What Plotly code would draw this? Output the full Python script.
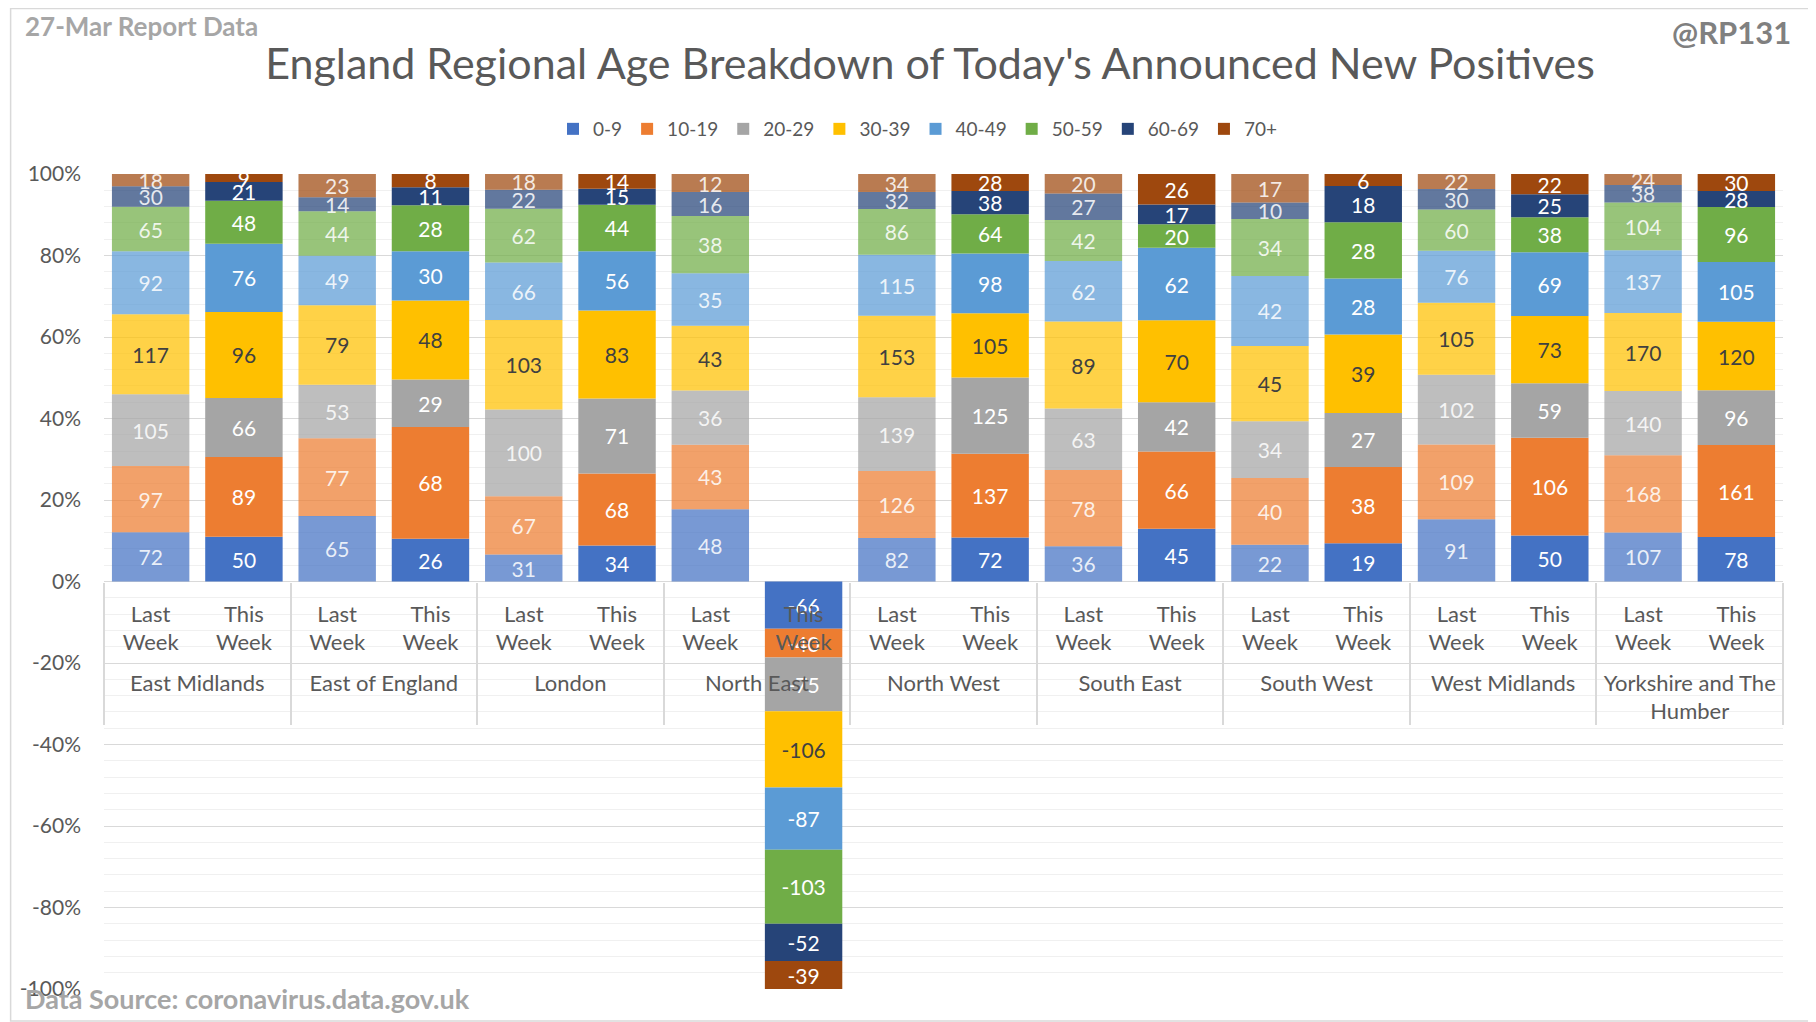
import plotly.graph_objects as go

# ---------------- data ----------------
regions = ["East Midlands", "East of England", "London", "North East", "North West",
           "South East", "South West", "West Midlands", "Yorkshire and The<br>Humber"]
weeks = ["Last<br>Week<br> ", "This<br>Week<br> "]
age_groups = ["0-9", "10-19", "20-29", "30-39", "40-49", "50-59", "60-69", "70+"]

# values per age group, ordered region by region: (Last Week, This Week)
age_0_9 = [72, 50, 65, 26, 31, 34, 48, -66, 82, 72, 36, 45, 22, 19, 91, 50, 107, 78]
age_10_19 = [97, 89, 77, 68, 67, 68, 43, -40, 126, 137, 78, 66, 40, 38, 109, 106, 168, 161]
age_20_29 = [105, 66, 53, 29, 100, 71, 36, -75, 139, 125, 63, 42, 34, 27, 102, 59, 140, 96]
age_30_39 = [117, 96, 79, 48, 103, 83, 43, -106, 153, 105, 89, 70, 45, 39, 105, 73, 170, 120]
age_40_49 = [92, 76, 49, 30, 66, 56, 35, -87, 115, 98, 62, 62, 42, 28, 76, 69, 137, 105]
age_50_59 = [65, 48, 44, 28, 62, 44, 38, -103, 86, 64, 42, 20, 34, 28, 60, 38, 104, 96]
age_60_69 = [30, 21, 14, 11, 22, 15, 16, -52, 32, 38, 27, 17, 10, 18, 30, 25, 38, 28]
age_70_plus = [18, 9, 23, 8, 18, 14, 12, -39, 34, 28, 20, 26, 17, 6, 22, 22, 24, 30]

y_tick_values = [-100, -80, -60, -40, -20, 0, 20, 40, 60, 80, 100]
y_tick_labels = ["-100%", "-80%", "-60%", "-40%", "-20%", "0%", "20%", "40%", "60%", "80%", "100%"]

series = [age_0_9, age_10_19, age_20_29, age_30_39, age_40_49, age_50_59, age_60_69, age_70_plus]
colors = ["68,114,196", "237,125,49", "165,165,165", "255,192,0",
          "91,155,213", "112,173,71", "38,68,120", "158,72,14"]

# ---------------- layout geometry ----------------
W, H = 1808, 1014
ML, MR, MT, MB = 94, 33, 166, 33
PW, PH = W - ML - MR, H - MT - MB


def px(X):
    return (X - ML) / PW


def py(Y):
    return (H - MB - Y) / PH


FONT = "Lato"

fig = go.Figure()
for k, g in enumerate(age_groups):
    last_vals = series[k][0::2]
    txt_last = "#404040" if g == "30-39" else "rgba(255,255,255,0.85)"
    fig.add_trace(go.Bar(
        x=[regions, [weeks[0]] * len(regions)], y=last_vals, name=g,
        legendgroup=g, showlegend=False,
        marker=dict(color="rgba(%s,0.72)" % colors[k], line=dict(width=0)),
        text=last_vals, texttemplate="%{text}", textposition="inside",
        insidetextanchor="middle", textangle=0,
        textfont=dict(family=FONT, size=21, color=txt_last),
    ))
for k, g in enumerate(age_groups):
    this_vals = series[k][1::2]
    txt_this = "#404040" if g == "30-39" else "#ffffff"
    fig.add_trace(go.Bar(
        x=[regions, [weeks[1]] * len(regions)], y=this_vals, name=g,
        legendgroup=g, showlegend=True,
        marker=dict(color="rgb(%s)" % colors[k], line=dict(width=0)),
        text=this_vals, texttemplate="%{text}", textposition="inside",
        insidetextanchor="middle", textangle=0,
        textfont=dict(family=FONT, size=21, color=txt_this),
    ))

fig.update_layout(
    width=W, height=H,
    margin=dict(l=ML, r=MR, t=MT, b=MB),
    paper_bgcolor="white", plot_bgcolor="white",
    barmode="relative", barnorm="percent", bargap=0.17,
    uniformtext=dict(mode="show", minsize=21),
    font=dict(family=FONT, color="#595959"),
    title=dict(text="England Regional Age Breakdown of Today's Announced New Positives",
               font=dict(family=FONT, size=43, color="#595959"),
               xref="container", x=922 / W, xanchor="center",
               yref="container", y=1 - 56 / H, yanchor="middle"),
    legend=dict(orientation="h", traceorder="normal",
                xref="container", x=910 / W, xanchor="center",
                yref="container", y=1 - 121 / H, yanchor="middle",
                font=dict(family=FONT, size=19, color="#595959")),
    showlegend=True,
)

fig.update_yaxes(range=[-100, 100], tickvals=y_tick_values, ticktext=y_tick_labels,
                 showgrid=True, gridcolor="#d9d9d9", gridwidth=1.3,
                 zeroline=True, zerolinecolor="#d9d9d9", zerolinewidth=1.3,
                 minor=dict(dtick=4, showgrid=True, gridcolor="#f0f0f0", gridwidth=1),
                 tickfont=dict(family=FONT, size=21, color="#595959"),
                 ticks="", ticklabelstandoff=22, showline=False, fixedrange=True)

fig.update_xaxes(type="multicategory", anchor="free", position=0.5,
                 showgrid=False, showline=False, ticks="", ticklabelstandoff=17,
                 showdividers=True, dividercolor="#d9d9d9", dividerwidth=1.5,
                 tickfont=dict(family=FONT, size=22, color="#595959"))

# border round the whole chart
fig.add_shape(type="rect", xref="paper", yref="paper",
              x0=px(0.5), x1=px(W - 1), y0=py(H - 1), y1=py(0.5),
              line=dict(color="#d9d9d9", width=1.5), fillcolor="rgba(0,0,0,0)", layer="below")

fig.add_annotation(text="<b>27-Mar Report Data</b>", xref="paper", yref="paper",
                   x=px(13), y=py(18), xanchor="left", yanchor="middle", showarrow=False,
                   font=dict(family=FONT, size=26, color="#a6a6a6"))
fig.add_annotation(text="<b>@RP131</b>", xref="paper", yref="paper",
                   x=px(1785), y=py(24), xanchor="right", yanchor="middle", showarrow=False,
                   font=dict(family=FONT, size=31, color="#808080"))
fig.add_annotation(text="<b>Data Source: coronavirus.data.gov.uk</b>", xref="paper", yref="paper",
                   x=px(13), y=py(991), xanchor="left", yanchor="middle", showarrow=False,
                   font=dict(family=FONT, size=27, color="#a6a6a6"))

fig.write_html("out.html")
